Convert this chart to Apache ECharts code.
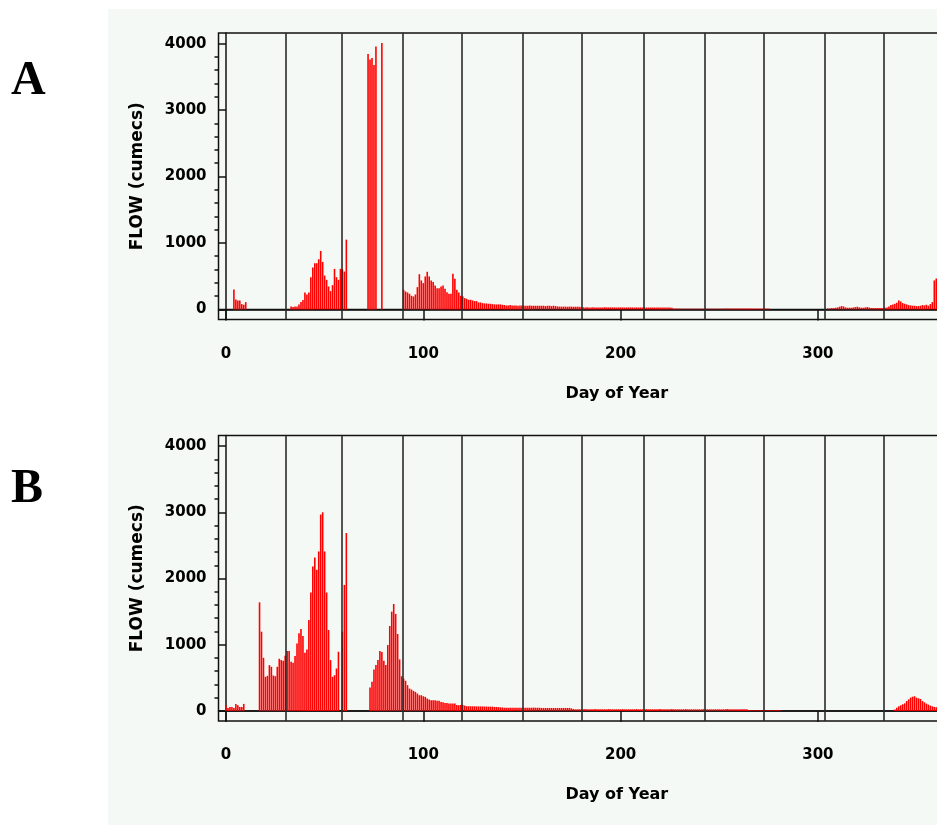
<!DOCTYPE html>
<html><head><meta charset="utf-8">
<script src="https://cdn.jsdelivr.net/npm/echarts@6/dist/echarts.min.js"></script>
<style>html,body{margin:0;padding:0;overflow:hidden;background:#ffffff}#c{width:1030px;height:825px}</style>
</head><body><div id="c"></div><script>
// Daily flow (cumecs), index = day of year (0..365)
const flowA = [
0,0,0,0,300,150,135,135,80,70,
110,0,0,0,0,0,0,0,0,0,
0,0,0,0,0,0,0,0,0,0,
0,0,0,45,35,45,45,75,110,140,
255,225,255,485,630,695,695,755,880,715,
510,445,345,275,365,610,485,445,610,605,
570,1050,0,0,0,0,0,0,0,0,
0,0,3845,3760,3785,3680,3955,0,0,4010,
0,0,0,0,0,0,0,0,0,0,
296,270,255,235,205,195,225,335,530,436,
396,496,566,496,436,411,360,320,320,345,
360,310,260,235,235,536,460,296,255,205,
195,170,160,145,145,135,125,125,105,105,
95,90,90,85,85,80,75,75,75,75,
70,65,60,60,65,60,60,60,55,60,
60,55,55,55,60,55,55,55,55,55,
55,55,50,55,55,50,55,50,45,42,
42,42,42,40,42,42,40,40,40,40,
35,32,30,32,30,30,32,30,30,30,
30,30,32,30,30,30,30,30,28,30,
30,30,28,30,30,30,30,28,30,28,
30,28,30,28,28,30,28,28,30,28,
28,30,28,28,30,28,25,12,12,12,
12,12,12,12,12,12,12,12,12,12,
12,12,12,12,12,12,12,12,12,12,
12,12,12,12,12,12,12,12,12,12,
12,12,12,12,12,12,12,12,12,12,
12,12,12,12,12,12,0,0,0,0,
0,0,0,0,0,0,0,0,0,0,
0,0,0,0,0,0,0,0,0,0,
0,0,0,0,0,15,15,20,20,25,
30,40,50,45,30,25,25,25,30,35,
40,30,25,25,30,35,30,20,20,20,
20,20,20,20,25,30,45,65,75,85,
100,135,120,95,85,75,65,60,55,55,
50,50,55,65,60,70,55,80,110,436,
465,460,480,470,450,430
];
const flowB = [
86,45,60,60,45,106,86,60,60,106,
0,0,0,0,0,0,0,1640,1197,803,
515,530,692,667,535,525,667,788,768,758,
833,904,904,742,727,828,1020,1172,1237,1131,
879,929,1374,1788,2182,2318,2131,2409,2965,3000,
2409,1788,1222,768,515,540,641,894,0,1197,
1904,2687,0,0,0,0,0,0,0,0,
0,0,0,354,439,626,692,768,904,889,
758,692,995,1283,1500,1616,1465,1162,778,525,
490,455,389,338,323,303,288,263,237,237,
222,212,187,172,162,162,162,152,152,136,
131,121,121,111,111,111,111,91,86,91,
91,81,71,71,71,70,70,68,68,68,
68,66,66,65,65,65,60,60,58,55,
52,50,50,50,50,50,50,50,50,50,
50,50,48,50,50,48,50,48,48,48,
45,45,45,45,45,45,45,45,45,45,
45,45,45,45,45,40,30,25,25,25,
25,25,28,25,25,25,25,28,25,25,
25,25,25,25,28,25,25,25,25,25,
25,28,25,25,25,25,25,25,28,25,
25,25,25,28,25,25,25,25,25,25,
28,25,25,25,25,25,28,25,25,25,
25,25,25,28,25,25,25,25,25,25,
25,25,28,25,25,25,25,25,25,25,
25,25,25,25,28,25,25,25,25,25,
25,25,25,25,25,10,10,10,10,10,
10,10,10,10,10,10,10,10,10,10,
10,10,0,0,0,0,0,0,0,0,
0,0,0,0,0,0,0,0,0,0,
0,0,0,0,0,0,0,0,0,0,
0,0,0,0,0,0,0,0,0,0,
0,0,0,0,0,0,0,0,0,0,
0,0,0,0,0,0,0,0,0,20,
50,70,85,100,115,150,175,202,215,222,
200,190,180,150,130,110,95,80,70,60,
55,50,50,45,45,40
];
const monthEndDays = [31,59,90,120,151,181,212,243,273,304,334,365];
const yTickValues = [0,1000,2000,3000,4000];
const yMinorTickValues = [200,400,600,800,1200,1400,1600,1800,2200,2400,2600,2800,3200,3400,3600,3800];
const xTickValues = [0,100,200,300];
const panelLabels = ['A','B'];
const yTitle = 'FLOW (cumecs)';
const xTitle = 'Day of Year';

const chart = echarts.init(document.getElementById('c'), null, {renderer:'canvas'});
const FONT = 'DejaVu Sans';
const X_MIN = -3.8, X_MAX = 400, Y_MIN = -152, Y_MAX = 4160;
const grids = [
  {left:218.5, top:33, width:796.7, height:286.5},
  {left:218.5, top:435.5, width:796.7, height:285.5}
];
const gridOpt = grids.map(g => Object.assign({show:true, borderColor:'#111', borderWidth:1.5, backgroundColor:'transparent', containLabel:false}, g));
const xAxes = [], yAxes = [], series = [];
const plain = v => String(v);
[flowA, flowB].forEach((flow, p) => {
  xAxes.push({
    type:'value', gridIndex:p, min:X_MIN, max:X_MAX,
    axisLine:{show:true, lineStyle:{color:'#111', width:1.5}},
    axisTick:{show:true, customValues:xTickValues, length:11, lineStyle:{color:'#111', width:1.5}},
    axisLabel:{show:true, customValues:xTickValues, formatter:plain, margin:27, color:'#000', fontFamily:FONT, fontWeight:'bold', fontSize:15},
    splitLine:{show:false},
    name:xTitle, nameLocation:'middle', nameGap:66,
    nameTextStyle:{color:'#000', fontFamily:FONT, fontWeight:'bold', fontSize:16}
  });
  yAxes.push({
    type:'value', gridIndex:p, position:'left', min:Y_MIN, max:Y_MAX,
    axisLine:{show:true, lineStyle:{color:'#111', width:1.5}},
    axisTick:{show:true, customValues:yTickValues, length:7, lineStyle:{color:'#111', width:1.5}},
    axisLabel:{show:true, customValues:yTickValues, formatter:plain, margin:12, color:'#000', fontFamily:FONT, fontWeight:'bold', fontSize:15},
    splitLine:{show:false},
    name:yTitle, nameLocation:'middle', nameGap:72, nameRotate:90,
    nameTextStyle:{color:'#000', fontFamily:FONT, fontWeight:'bold', fontSize:17}
  });
  yAxes.push({
    type:'value', gridIndex:p, position:'left', offset:0, min:Y_MIN, max:Y_MAX,
    axisLine:{show:false},
    axisTick:{show:true, customValues:yMinorTickValues, length:4, lineStyle:{color:'#111', width:1.5}},
    axisLabel:{show:false},
    splitLine:{show:false}
  });
  series.push({
    type:'line', xAxisIndex:p, yAxisIndex:p*2, data:[[X_MIN,0],[X_MAX,0]],
    symbol:'none', silent:true, z:1, lineStyle:{color:'#111', width:1.5}
  });
  series.push({
    type:'bar', xAxisIndex:p, yAxisIndex:p*2, barWidth:1.6, z:2, silent:true,
    itemStyle:{color:'#ff0000'},
    data: flow.map((v,i)=>[i,v])
  });
  series.push({
    type:'line', xAxisIndex:p, yAxisIndex:p*2, data:[], z:3, silent:true,
    markLine:{symbol:['none','none'], silent:true, label:{show:false},
      lineStyle:{color:'#2a2a2a', width:1.6, type:'solid'},
      data: monthEndDays.map(d=>({xAxis:d-0.5}))}
  });
});

chart.setOption({
  animation:false,
  backgroundColor:'#ffffff',
  graphic:[
    {type:'rect', z:-10, silent:true, shape:{x:108, y:9, width:922, height:816}, style:{fill:'#f5f9f5'}},
    {type:'text', x:11, y:81.5, silent:true, style:{text:panelLabels[0], font:'bold 48px "Liberation Serif"', fill:'#000', verticalAlign:'middle', align:'left'}},
    {type:'text', x:11, y:490, silent:true, style:{text:panelLabels[1], font:'bold 48px "Liberation Serif"', fill:'#000', verticalAlign:'middle', align:'left'}}
  ],
  grid:gridOpt,
  xAxis:xAxes,
  yAxis:yAxes,
  series:series
});
</script></body></html>
